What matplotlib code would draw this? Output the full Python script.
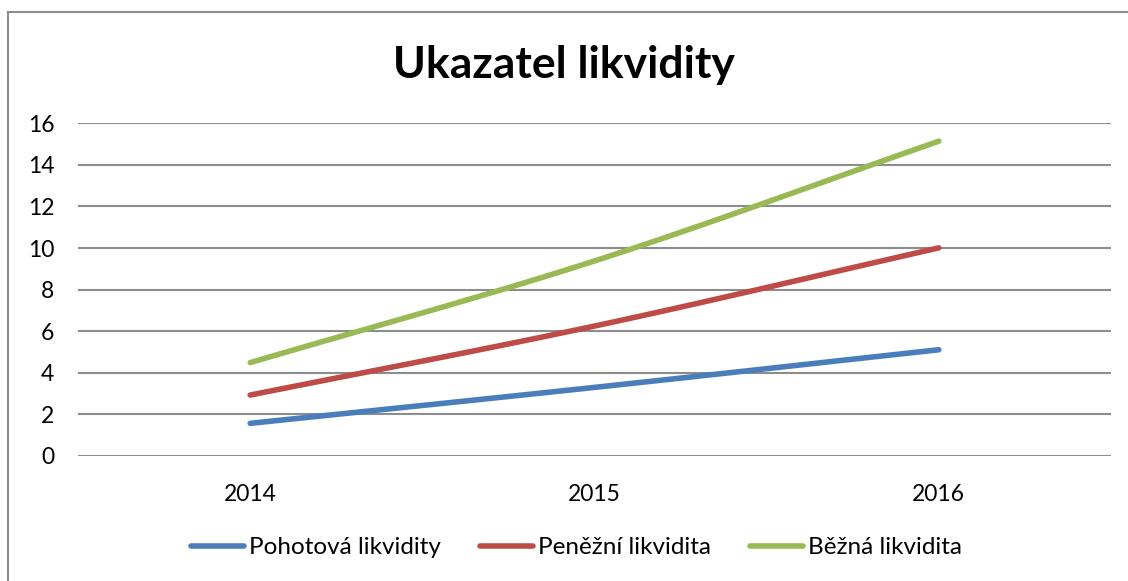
import matplotlib.pyplot as plt
import numpy as np
from matplotlib.lines import Line2D

years = ["2014", "2015", "2016"]
pohotova = [1.57, 3.3, 5.11]
penezni = [2.93, 6.25, 10.01]
bezna = [4.49, 9.38, 15.14]
labels = ["Pohotová likvidity", "Peněžní likvidita", "Běžná likvidita"]
colors = ["#4a7ebb", "#be4b48", "#98b954"]

plt.rcParams['font.family'] = ['Lato', 'DejaVu Sans']


# Excel-like smoothed line (Catmull-Rom through the data points)
def smooth(xs, ys, n=40):
    xs = np.asarray(xs, float)
    ys = np.asarray(ys, float)
    px = np.concatenate([[2 * xs[0] - xs[1]], xs, [2 * xs[-1] - xs[-2]]])
    py = np.concatenate([[2 * ys[0] - ys[1]], ys, [2 * ys[-1] - ys[-2]]])
    outx, outy = [], []
    for i in range(1, len(px) - 2):
        t = np.linspace(0, 1, n)
        for arr, out in ((px, outx), (py, outy)):
            p0, p1, p2, p3 = arr[i - 1], arr[i], arr[i + 1], arr[i + 2]
            out.extend(0.5 * ((2 * p1) + (-p0 + p2) * t
                              + (2 * p0 - 5 * p1 + 4 * p2 - p3) * t ** 2
                              + (-p0 + 3 * p1 - 3 * p2 + p3) * t ** 3))
    return outx, outy


fig = plt.figure(figsize=(11.28, 5.81), dpi=100)
# chart border: only left and top edges are inside the image
bx = 8 / 1128
by = (581 - 11.5) / 581
fig.add_artist(Line2D([bx, bx], [0, by], transform=fig.transFigure,
                      color="#8c8c8c", linewidth=1.5))
fig.add_artist(Line2D([bx, 1], [by, by], transform=fig.transFigure,
                      color="#8c8c8c", linewidth=1.5))

ax = fig.add_axes([78 / 1128, (581 - 456) / 581, 1033 / 1128, 332.7 / 581])
x = np.arange(len(years))
for vals, lab, col in zip([pohotova, penezni, bezna], labels, colors):
    sx, sy = smooth(x, vals)
    ax.plot(sx, sy, color=col, linewidth=4, solid_capstyle="round", label=lab)

ax.set_xlim(-0.5, 2.5)
ax.set_ylim(0, 16)
ax.set_yticks(np.arange(0, 17, 2))
ax.set_xticks(x)
ax.set_xticklabels(years)
ax.yaxis.grid(True, color="#8c8c8c", linewidth=1.5)
ax.set_axisbelow(True)
for s in ax.spines.values():
    s.set_visible(False)
ax.tick_params(length=0, labelsize=16.5)
ax.tick_params(axis="y", pad=17)
ax.tick_params(axis="x", pad=20)

fig.text(0.5, 0.888, "Ukazatel likvidity", ha="center", va="center",
         fontsize=32, fontweight="bold")

fig.legend(loc="center", bbox_to_anchor=(0.511, 0.057), ncol=3, frameon=False,
           fontsize=17.5, handlelength=2.2, handletextpad=0.2, columnspacing=1.6)

fig.savefig("out.png", dpi=100)
